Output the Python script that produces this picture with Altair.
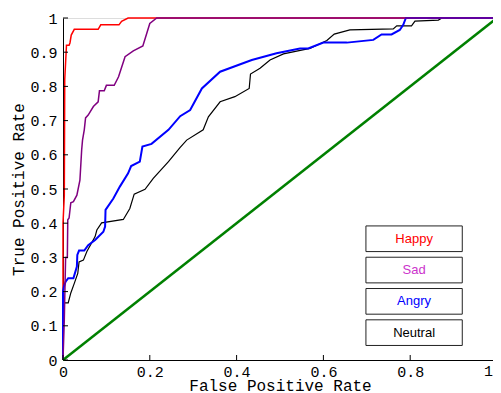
import altair as alt
import pandas as pd

# ROC curve data (false positive rate, true positive rate)
happy_fpr = [0, 0, 0.003, 0.004, 0.006, 0.008, 0.014, 0.016, 0.019, 0.026, 0.081, 0.087, 0.129, 0.135, 0.150, 1.0]
happy_tpr = [0, 0.40, 0.48, 0.82, 0.87, 0.92, 0.92, 0.927, 0.95, 0.967, 0.967, 0.98, 0.98, 0.99, 1.0, 1.0]

sad_fpr = [0, 0.003, 0.006, 0.010, 0.011, 0.014, 0.018, 0.024, 0.032, 0.039, 0.043, 0.045, 0.049, 0.052,
           0.058, 0.070, 0.081, 0.084, 0.095, 0.100, 0.118, 0.128, 0.143, 0.162, 0.184, 0.200, 0.216, 1.0]
sad_tpr = [0, 0.117, 0.30, 0.30, 0.41, 0.415, 0.46, 0.463, 0.482, 0.526, 0.614, 0.643, 0.673, 0.708,
           0.716, 0.741, 0.755, 0.787, 0.787, 0.803, 0.803, 0.828, 0.887, 0.904, 0.918, 0.984, 1.0, 1.0]

angry_fpr = [0, 0, 0.002, 0.006, 0.012, 0.024, 0.032, 0.033, 0.037, 0.049, 0.058, 0.074, 0.093, 0.097, 0.098,
             0.116, 0.131, 0.150, 0.157, 0.177, 0.183, 0.204, 0.243, 0.270, 0.293, 0.320, 0.362, 0.435,
             0.492, 0.546, 0.565, 0.600, 0.654, 0.715, 0.734, 0.757, 0.776, 0.784, 0.790, 1.0]
angry_tpr = [0, 0.20, 0.214, 0.229, 0.239, 0.239, 0.273, 0.307, 0.320, 0.320, 0.336, 0.351, 0.375, 0.390, 0.439,
             0.472, 0.507, 0.546, 0.567, 0.580, 0.624, 0.632, 0.673, 0.713, 0.731, 0.794, 0.843, 0.877,
             0.897, 0.911, 0.911, 0.928, 0.928, 0.936, 0.952, 0.952, 0.965, 0.980, 1.0, 1.0]

neutral_fpr = [0, 0, 0.012, 0.018, 0.026, 0.034, 0.037, 0.047, 0.055, 0.074, 0.078, 0.089, 0.139, 0.154,
               0.164, 0.189, 0.208, 0.243, 0.270, 0.285, 0.323, 0.335, 0.362, 0.396, 0.429, 0.432, 0.454,
               0.477, 0.508, 0.569, 0.608, 0.625, 0.661, 0.761, 0.769, 0.803, 0.811, 0.865, 0.873, 1.0]
neutral_tpr = [0, 0.167, 0.167, 0.196, 0.224, 0.253, 0.287, 0.292, 0.317, 0.361, 0.380, 0.401, 0.411, 0.443,
               0.485, 0.499, 0.531, 0.580, 0.622, 0.643, 0.673, 0.711, 0.755, 0.770, 0.794, 0.836, 0.853,
               0.877, 0.895, 0.911, 0.934, 0.953, 0.965, 0.968, 0.977, 0.977, 0.991, 0.994, 1.0, 1.0]

chance_fpr = [0, 1]
chance_tpr = [0, 1]

legend_labels = ["Happy", "Sad", "Angry", "Neutral"]
legend_text_colors = ["#ff0000", "#cc33cc", "#0000ff", "#000000"]

x_ticks = [0, 0.2, 0.4, 0.6, 0.8, 1.0]
y_ticks = [0, 0.1, 0.2, 0.3, 0.4, 0.5, 0.6, 0.7, 0.8, 0.9, 1.0]
x_last_label = ["1"]

W, H = 434, 342
MONO = "Liberation Mono"

xscale = alt.Scale(domain=[0, 1], nice=False, zero=False)
yscale = alt.Scale(domain=[0, 1], nice=False, zero=False)

x_axis = alt.Axis(title="False Positive Rate", values=x_ticks, format=".1~f",
                  labelExpr="datum.value >= 1 ? '' : datum.label",
                  grid=False, ticks=False, tickSize=0, labelPadding=4, labelOverlap=False,
                  domainColor="black", labelColor="black", titleColor="black",
                  labelFont=MONO, titleFont=MONO, labelFontSize=15, titleFontSize=16,
                  titleFontWeight="normal", labelFlush=False,
                  titleX=W / 2, titleY=30, titleBaseline="alphabetic", titleAlign="center")
y_axis = alt.Axis(title="True Positive Rate", values=y_ticks, format=".1~f",
                  grid=False, ticks=False, tickSize=0, labelPadding=6, labelOverlap=False,
                  domainColor="black", labelColor="black", titleColor="black",
                  labelFont=MONO, titleFont=MONO, labelFontSize=15, titleFontSize=16,
                  titleFontWeight="normal", labelFlush=False,
                  titleX=-45, titleY=H / 2, titleBaseline="middle", titleAlign="center", titleAngle=270)


def X(field):
    return alt.X(field, scale=xscale, axis=x_axis)


def Y(field):
    return alt.Y(field, scale=yscale, axis=y_axis)


def curve(fpr, tpr, color, width):
    df = pd.DataFrame({"fpr": fpr, "tpr": tpr, "i": range(len(fpr))})
    return alt.Chart(df).mark_line(color=color, strokeWidth=width, clip=False).encode(
        x=X("fpr:Q"), y=Y("tpr:Q"), order="i:Q",
    )


layers = [
    curve(happy_fpr, happy_tpr, "#ff0000", 1.5),
    curve(neutral_fpr, neutral_tpr, "#000000", 1.2),
    curve(angry_fpr, angry_tpr, "#0000ff", 2.0),
    curve(sad_fpr, sad_tpr, "#800080", 1.5),
    curve(chance_fpr, chance_tpr, "#008000", 2.5),
]

# inward tick marks
xt = pd.DataFrame({"v": x_ticks})
yt = pd.DataFrame({"v": y_ticks})
x_tick_marks = alt.Chart(xt).mark_rule(color="black", strokeWidth=1).encode(
    x=X("v:Q"), y=alt.value(H), y2=alt.value(H - 5))
y_tick_marks = alt.Chart(yt).mark_rule(color="black", strokeWidth=1).encode(
    y=Y("v:Q"), x=alt.value(0), x2=alt.value(5))

# last x tick label, kept inside the drawing edge
last_lab = pd.DataFrame({"v": [x_ticks[-1]], "t": x_last_label})
last_label = alt.Chart(last_lab).mark_text(font=MONO, fontSize=15, align="right", baseline="top",
                                           dx=-4, color="black").encode(
    x=X("v:Q"), y=alt.value(H + 4), text="t:N")

# legend boxes (layout computed from row index)
n = len(legend_labels)
leg = pd.DataFrame({
    "label": legend_labels,
    "tc": legend_text_colors,
    "x1": [0.698] * n,
    "x2": [0.920] * n,
    "yt": [0.392 - k * 0.0915 for k in range(n)],
})
leg["yb"] = leg["yt"] - 0.075
leg["yc"] = (leg["yt"] + leg["yb"]) / 2
leg["xc"] = (leg["x1"] + leg["x2"]) / 2

boxes = alt.Chart(leg).mark_rect(fill="white", stroke="#222222", strokeWidth=1).encode(
    x=X("x1:Q"), x2="x2:Q", y=Y("yt:Q"), y2="yb:Q")
texts = alt.Chart(leg).mark_text(font="Liberation Sans", fontSize=13, baseline="middle",
                                 align="center").encode(
    x=X("xc:Q"), y=Y("yc:Q"),
    text="label:N", color=alt.Color("tc:N", scale=None))

chart = alt.layer(*layers, x_tick_marks, y_tick_marks, last_label, boxes, texts).properties(
    width=W, height=H,
    autosize=alt.AutoSizeParams(type="none"),
    padding={"left": 55, "top": 10, "right": -4, "bottom": 33},
).configure_view(stroke=None).configure(background="white")

chart.save("out.html", embed_options={"renderer": "svg", "actions": False})
